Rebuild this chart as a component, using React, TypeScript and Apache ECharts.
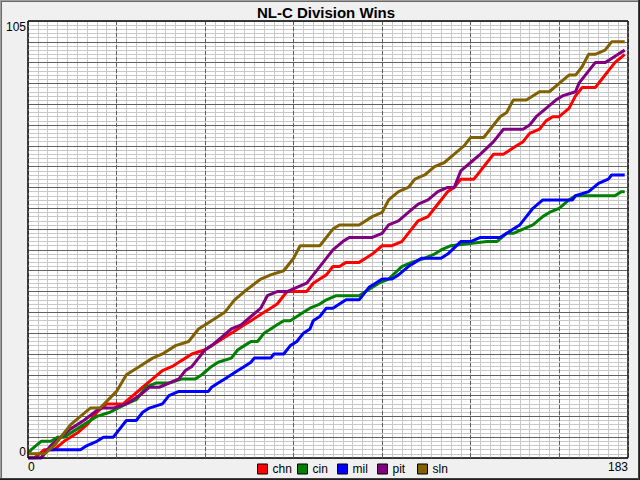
import React, { useEffect, useRef } from "react";
import * as echarts from "echarts";

// [day of season, cumulative wins]
const chn: number[][] = [[0,0],[2,0],[5,2],[8,2],[11,4],[15,6],[18,8],[21,11],[24,13],[29,13],[32,15],[35,17],[38,19],[41,21],[44,22],[46,23],[48,24],[50,25],[54,26],[56,27],[58,28],[60,29],[62,30],[64,31],[66,32],[68,33],[70,34],[72,35],[74,36],[76,37],[79,40],[85,40],[87,42],[89,43],[91,44],[93,46],[95,46],[97,47],[101,47],[103,48],[105,49],[108,51],[111,51],[114,52],[117,55],[119,57],[122,58],[124,60],[126,62],[128,64],[130,65],[132,67],[136,67],[138,69],[140,71],[142,73],[145,73],[147,74],[149,75],[151,76],[153,78],[156,79],[158,81],[160,82],[162,82],[165,84],[167,87],[169,89],[173,89],[175,91],[177,93],[179,95],[182,97]];
const cin: number[][] = [[0,1],[1,2],[4,4],[7,4],[9,5],[11,5],[15,7],[19,9],[21,10],[25,11],[30,13],[33,14],[36,17],[39,18],[43,18],[47,19],[51,19],[53,20],[56,22],[58,23],[62,24],[64,26],[66,27],[68,28],[70,28],[72,30],[74,31],[76,32],[78,33],[80,33],[82,34],[84,35],[86,36],[89,37],[91,38],[94,39],[101,39],[103,40],[107,42],[110,43],[114,46],[117,47],[121,48],[124,49],[126,50],[129,51],[140,52],[143,52],[146,54],[148,54],[151,55],[154,56],[157,58],[159,59],[162,60],[165,62],[167,63],[179,63],[181,64],[182,64]];
const mil: number[][] = [[0,0],[4,0],[6,2],[16,2],[18,3],[21,4],[23,5],[26,5],[28,7],[30,9],[33,9],[35,11],[37,12],[41,13],[43,15],[46,16],[55,16],[56,17],[58,18],[60,19],[62,20],[64,21],[66,22],[68,23],[69,24],[74,24],[75,25],[78,25],[80,27],[82,28],[84,30],[86,31],[87,33],[89,34],[91,36],[93,36],[95,37],[97,38],[101,38],[104,41],[106,42],[108,43],[111,43],[113,44],[116,46],[118,47],[120,48],[126,48],[128,49],[132,52],[135,52],[138,53],[144,53],[146,54],[148,55],[150,56],[152,58],[154,60],[157,62],[166,62],[167,63],[171,64],[174,66],[177,67],[178,68],[182,68]];
const pit: number[][] = [[0,0],[4,0],[7,3],[10,5],[13,7],[17,9],[22,12],[26,12],[30,13],[34,15],[37,17],[40,17],[43,18],[46,19],[48,21],[50,22],[52,24],[54,26],[56,27],[59,29],[62,31],[65,32],[68,34],[71,36],[73,39],[76,40],[79,40],[82,41],[85,42],[87,44],[90,47],[93,50],[96,52],[98,53],[105,53],[108,54],[110,56],[113,57],[116,59],[119,61],[122,62],[125,64],[128,65],[130,65],[132,69],[135,71],[138,73],[142,76],[145,79],[151,79],[153,80],[155,82],[158,84],[161,86],[163,87],[167,88],[168,90],[171,93],[173,95],[176,95],[178,96],[180,97],[182,98]];
const sln: number[][] = [[0,1],[5,1],[8,3],[13,8],[19,12],[22,12],[27,16],[30,20],[34,22],[38,24],[41,25],[45,27],[49,28],[52,31],[56,33],[60,35],[63,38],[66,40],[71,43],[74,44],[78,45],[81,48],[83,51],[89,51],[93,55],[95,56],[101,56],[105,58],[108,59],[110,62],[113,64],[116,65],[118,67],[121,68],[124,70],[127,71],[130,73],[133,75],[135,77],[139,77],[142,80],[144,82],[146,83],[148,86],[152,86],[156,88],[159,88],[162,90],[165,92],[167,92],[169,94],[171,97],[173,97],[176,98],[178,100],[182,100]];

const teamNames = ["chn", "cin", "mil", "pit", "sln"];
const teamData = [chn, cin, mil, pit, sln];
const teamColors = ["#ff0000", "#008000", "#0000ff", "#800080", "#806000"];
const xLabelValues = [0, 183];
const yLabelValues = [0, 105];

const FONT = "'Liberation Sans', Arial, sans-serif";

export default function App() {
  const ref = useRef<HTMLDivElement>(null);
  useEffect(() => {
    if (!ref.current) return;
    const chart = echarts.init(ref.current, undefined, { renderer: "svg" });
    const grid = { left: 28, top: 21, width: 600, height: 437 };
    chart.setOption({
      animation: false,
      backgroundColor: "#f0f0f0",
      textStyle: { fontFamily: FONT },
      title: {
        text: "NL-C Division Wins",
        left: 326,
        top: 5,
        padding: 0,
        textAlign: "center",
        textStyle: { fontFamily: FONT, fontSize: 15, fontWeight: "bold", color: "#000" },
      },
      legend: teamNames.map((name, i) => ({
        data: [name],
        left: 252 + i * 40,
        top: 458,
        icon: "rect",
        itemWidth: 10,
        itemHeight: 10,
        itemStyle: { borderColor: "#000", borderWidth: 1 },
        textStyle: { fontFamily: FONT, fontSize: 12, color: "#000" },
      })),
      grid: { ...grid, show: true, backgroundColor: "#fff", borderColor: "#000", borderWidth: 1 },
      xAxis: [
        {
          type: "value", min: 0, max: 183, interval: 3, z: 0,
          axisLine: { show: false }, axisTick: { show: false },
          axisLabel: {
            customValues: xLabelValues, margin: 3, fontSize: 12, color: "#000", fontFamily: FONT,
            alignMinLabel: "left", alignMaxLabel: "right",
          },
          splitLine: { show: true, lineStyle: { color: "#c8c8c8", width: 1 } },
        },
        {
          type: "value", min: 0, max: 183, interval: 27, z: 1,
          axisLine: { show: false }, axisTick: { show: false }, axisLabel: { show: false },
          splitLine: { show: true, lineStyle: { color: "#606060", width: 1, type: [4, 2] } },
        },
      ],
      yAxis: [
        {
          type: "value", min: 0, max: 105, interval: 1, z: 0,
          axisLine: { show: false }, axisTick: { show: false },
          axisLabel: {
            customValues: yLabelValues, margin: 2, fontSize: 12, color: "#000", fontFamily: FONT,
            verticalAlignMinLabel: "bottom", verticalAlignMaxLabel: "top",
          },
          splitLine: { show: true, lineStyle: { color: "#c8c8c8", width: 1 } },
        },
        {
          type: "value", min: 0, max: 105, interval: 5, z: 1, position: "left",
          axisLine: { show: false }, axisTick: { show: false }, axisLabel: { show: false },
          splitLine: { show: true, lineStyle: { color: "#606060", width: 1 } },
        },
      ],
      graphic: [
        { type: "rect", z: 100, silent: true, shape: { x: 28, y: 21, width: 600, height: 437 }, style: { fill: "none", stroke: "#000", lineWidth: 1 } },
        { type: "line", z: 100, silent: true, shape: { x1: 0, y1: 0.5, x2: 640, y2: 0.5 }, style: { stroke: "#a0a0a0", lineWidth: 1 } },
        { type: "line", z: 100, silent: true, shape: { x1: 0.5, y1: 0, x2: 0.5, y2: 480 }, style: { stroke: "#a0a0a0", lineWidth: 1 } },
        { type: "line", z: 100, silent: true, shape: { x1: 1, y1: 1.5, x2: 638, y2: 1.5 }, style: { stroke: "#696969", lineWidth: 1 } },
        { type: "line", z: 100, silent: true, shape: { x1: 1.5, y1: 1, x2: 1.5, y2: 478 }, style: { stroke: "#696969", lineWidth: 1 } },
        { type: "line", z: 100, silent: true, shape: { x1: 0, y1: 478.5, x2: 640, y2: 478.5 }, style: { stroke: "#404040", lineWidth: 1 } },
        { type: "line", z: 100, silent: true, shape: { x1: 0, y1: 479.5, x2: 640, y2: 479.5 }, style: { stroke: "#202020", lineWidth: 1 } },
        { type: "line", z: 100, silent: true, shape: { x1: 638.5, y1: 0, x2: 638.5, y2: 480 }, style: { stroke: "#404040", lineWidth: 1 } },
        { type: "line", z: 100, silent: true, shape: { x1: 639.5, y1: 0, x2: 639.5, y2: 480 }, style: { stroke: "#202020", lineWidth: 1 } },
      ],
      series: teamNames.map((name, i) => ({
        name,
        type: "line",
        xAxisIndex: 0,
        yAxisIndex: 0,
        data: teamData[i],
        showSymbol: false,
        symbol: "none",
        color: teamColors[i],
        lineStyle: { color: teamColors[i], width: 3 },
        itemStyle: { color: teamColors[i] },
        z: 2 + i,
      })),
    });
    return () => chart.dispose();
  }, []);
  return (
    <div
      ref={ref}
      style={{ position: "fixed", left: 0, top: 0, width: 640, height: 480 }}
    />
  );
}
